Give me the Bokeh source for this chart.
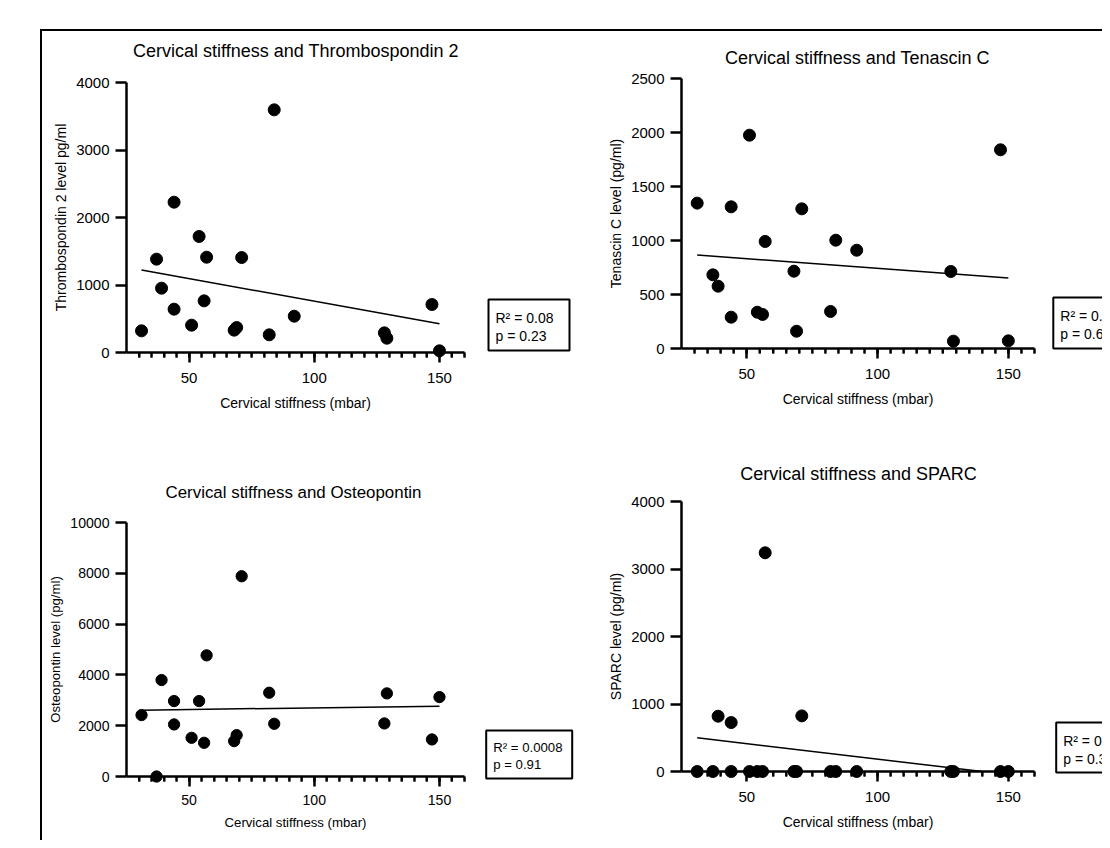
import numpy as np
from bokeh.plotting import figure
from bokeh.models import FixedTicker, Div, Spacer, Range1d, ColumnDataSource
from bokeh.layouts import row, column
from bokeh.core.properties import value
from bokeh.embed import file_html
from bokeh.resources import INLINE

# ---------------- data ----------------
stiffness = [31, 37, 39, 44, 44, 51, 54, 56, 57, 68, 69, 71, 82, 84, 92, 128, 129, 147, 150]
thrombospondin2 = [321, 1383, 953, 2227, 642, 405, 1719, 765, 1412, 331, 370, 1407, 262, 3595, 538, 291, 212, 711, 25]
tenascin_c = [1346, 682, 577, 1312, 290, 1975, 336, 315, 991, 716, 160, 1293, 343, 1003, 910, 713, 68, 1840, 71]
opn_stiffness = [31, 37, 39, 44, 44, 51, 54, 56, 57, 68, 69, 71, 82, 84, 128, 129, 147, 150]
osteopontin = [2418, 0, 3798, 2970, 2050, 1524, 2970, 1327, 4770, 1393, 1629, 7884, 3298, 2076, 2089, 3272, 1459, 3127]
sparc = [0, 0, 819, 725, 0, 0, 0, 0, 3240, 0, 0, 824, 0, 0, 0, 0, 0, 0, 0]

x_major = [50, 100, 150]
x_minor = list(range(30, 161, 5))
tl_yticks = [0, 1000, 2000, 3000, 4000]
tr_yticks = [0, 500, 1000, 1500, 2000, 2500]
bl_yticks = [0, 2000, 4000, 6000, 8000, 10000]
br_yticks = [0, 1000, 2000, 3000, 4000]

titles = ["Cervical stiffness and Thrombospondin 2", "Cervical stiffness and Tenascin C",
          "Cervical stiffness and Osteopontin", "Cervical stiffness and SPARC"]
ylabels = ["Thrombospondin 2 level pg/ml", "Tenascin C level (pg/ml)",
           "Osteopontin level (pg/ml)", "SPARC level (pg/ml)"]
xlabel = "Cervical stiffness (mbar)"
stat_r2 = ["R\u00b2 = 0.08", "R\u00b2 = 0.01", "R\u00b2 = 0.0008", "R\u00b2 = 0.05"]
stat_p = ["p = 0.23", "p = 0.63", "p = 0.91", "p = 0.36"]

FONT = "Liberation Sans"
XMIN, XMAX = 25, 160


def panel(geo, ymax, yticks, title, ylabel, xs, ys, r2, pv, s=1.0, xstand=(10, 9)):
    ox, oy, W, H = geo["fig"]
    fl, fr, ft, fb = geo["borders"]
    # pixel frame, for placing overlay texts
    fx0, fx1 = ox + fl, ox + W - fr
    fy1, fy0 = oy + ft, oy + H - fb

    def dx(sx):
        return XMIN + (sx - fx0) * (XMAX - XMIN) / (fx1 - fx0)

    def dy(sy):
        return ymax * (fy0 - sy) / (fy0 - fy1)

    p = figure(width=W, height=H, x_range=Range1d(XMIN, XMAX), y_range=Range1d(0, ymax),
               output_backend="svg", toolbar_location=None,
               min_border_left=fl, min_border_right=fr, min_border_top=ft, min_border_bottom=fb)
    p.outline_line_color = None
    p.xgrid.visible = False
    p.ygrid.visible = False
    p.background_fill_color = "white"
    p.border_fill_color = "white"

    for ax in (p.xaxis[0], p.yaxis[0]):
        ax.axis_line_width = 2.5
        ax.axis_line_color = "black"
        ax.major_tick_line_width = 2.5
        ax.major_tick_line_color = "black"
        ax.minor_tick_line_width = 2
        ax.minor_tick_line_color = "black"
        ax.major_tick_in = 0
        ax.minor_tick_in = 0
        ax.major_tick_out = 10
        ax.minor_tick_out = 5
        ax.major_label_text_font = FONT
        ax.major_label_text_font_size = f"{15 * s:.1f}px"
        ax.major_label_text_color = "black"
        ax.axis_label_text_font = FONT
        ax.axis_label_text_font_size = f"{14 * s:.1f}px"
        ax.axis_label_text_font_style = "normal"
        ax.axis_label_text_color = "black"

    xa = p.xaxis[0]
    xa.ticker = FixedTicker(ticks=x_major, minor_ticks=x_minor)
    xa.bounds = (XMIN, XMAX)
    xa.axis_label = xlabel
    xa.major_label_standoff = xstand[0]
    xa.axis_label_standoff = xstand[1]

    ya = p.yaxis[0]
    ya.ticker = FixedTicker(ticks=yticks, minor_ticks=[])
    ya.bounds = (0, ymax)
    ya.axis_label = ylabel
    ya.major_tick_out = 11
    ya.major_label_standoff = 6
    ya.axis_label_standoff = 4

    # least-squares line over the data range, stopped at the x axis
    slope, icpt = np.polyfit(np.array(xs, float), np.array(ys, float), 1)
    x0, x1 = min(xs), max(xs)
    y0, y1 = slope * x0 + icpt, slope * x1 + icpt
    if y1 < 0:
        x1 = -icpt / slope
        y1 = 0.0
    p.line([x0, x1], [y0, y1], line_color="black", line_width=1.5)

    # minor x ticks (5 px below the axis line)
    tick_end = dy(fy0 + 5)
    p.segment(x0=x_minor, y0=[0] * len(x_minor), x1=x_minor, y1=[tick_end] * len(x_minor),
              line_color="black", line_width=2, level="overlay")

    src = ColumnDataSource(dict(x=xs, y=ys))
    p.scatter("x", "y", source=src, size=12 * s, color="black", level="overlay")

    # title, centred over the frame
    tx, ty = geo["title"]
    p.text(x=[dx(tx)], y=[dy(ty)], text=[title], text_align="center", text_baseline="middle",
           text_font=value(FONT), level="overlay",
           text_font_size=f"{18 * s:.1f}px", text_color="black")

    # statistics box
    bx, by, bw, bh = geo["box"]
    p.rect(x=[dx(bx + bw / 2)], y=[dy(by + bh / 2)], width=bw, height=bh,
           width_units="screen", height_units="screen", fill_color="white",
           line_color="black", line_width=2, level="overlay")
    p.text(x=[dx(bx + 7), dx(bx + 7)], y=[dy(by + 18 * s), dy(by + 36 * s)], text=[r2, pv],
           text_align="left", text_baseline="middle", level="overlay",
           text_font=value(FONT), text_font_size=f"{14 * s:.1f}px", text_color="black")
    return p


# figure origin/size on the page, frame borders, and text/box positions (page pixels)
geo_tl = dict(fig=(42, 31, 548, 394), borders=(84, 126, 51, 73),
              title=(295.5, 50), box=(488, 299, 81, 51))
geo_tr = dict(fig=(590, 31, 512, 394), borders=(91, 68, 47, 77),
              title=(857, 57.7), box=(1052.8, 297, 81, 51))
geo_bl = dict(fig=(42, 425, 548, 415), borders=(84, 126, 97, 64),
              title=(293, 491.7), box=(485.7, 730, 86, 48))
geo_br = dict(fig=(590, 425, 512, 415), borders=(91, 68, 76, 69),
              title=(858, 473.3), box=(1055.7, 722, 81, 50))

p1 = panel(geo_tl, 4000, tl_yticks, titles[0], ylabels[0], stiffness, thrombospondin2, stat_r2[0], stat_p[0])
p2 = panel(geo_tr, 2500, tr_yticks, titles[1], ylabels[1], stiffness, tenascin_c, stat_r2[1], stat_p[1])
p3 = panel(geo_bl, 10000, bl_yticks, titles[2], ylabels[2], opn_stiffness, osteopontin, stat_r2[2], stat_p[2],
           s=0.94, xstand=(8, 7))
p4 = panel(geo_br, 4000, br_yticks, titles[3], ylabels[3], stiffness, sparc, stat_r2[3], stat_p[3])

grid = row(column(p1, p3), column(p2, p4))
top_border = Div(width=1062, height=2, margin=0, styles={"background-color": "black"})
left_border = Div(width=2, height=809, margin=0, styles={"background-color": "black"})
layout = column(
    Spacer(width=1102, height=29, margin=0),
    row(Spacer(width=40, height=2, margin=0), top_border),
    row(Spacer(width=40, height=809, margin=0), left_border, grid),
)

open("out.html", "w").write(file_html(layout, INLINE))
